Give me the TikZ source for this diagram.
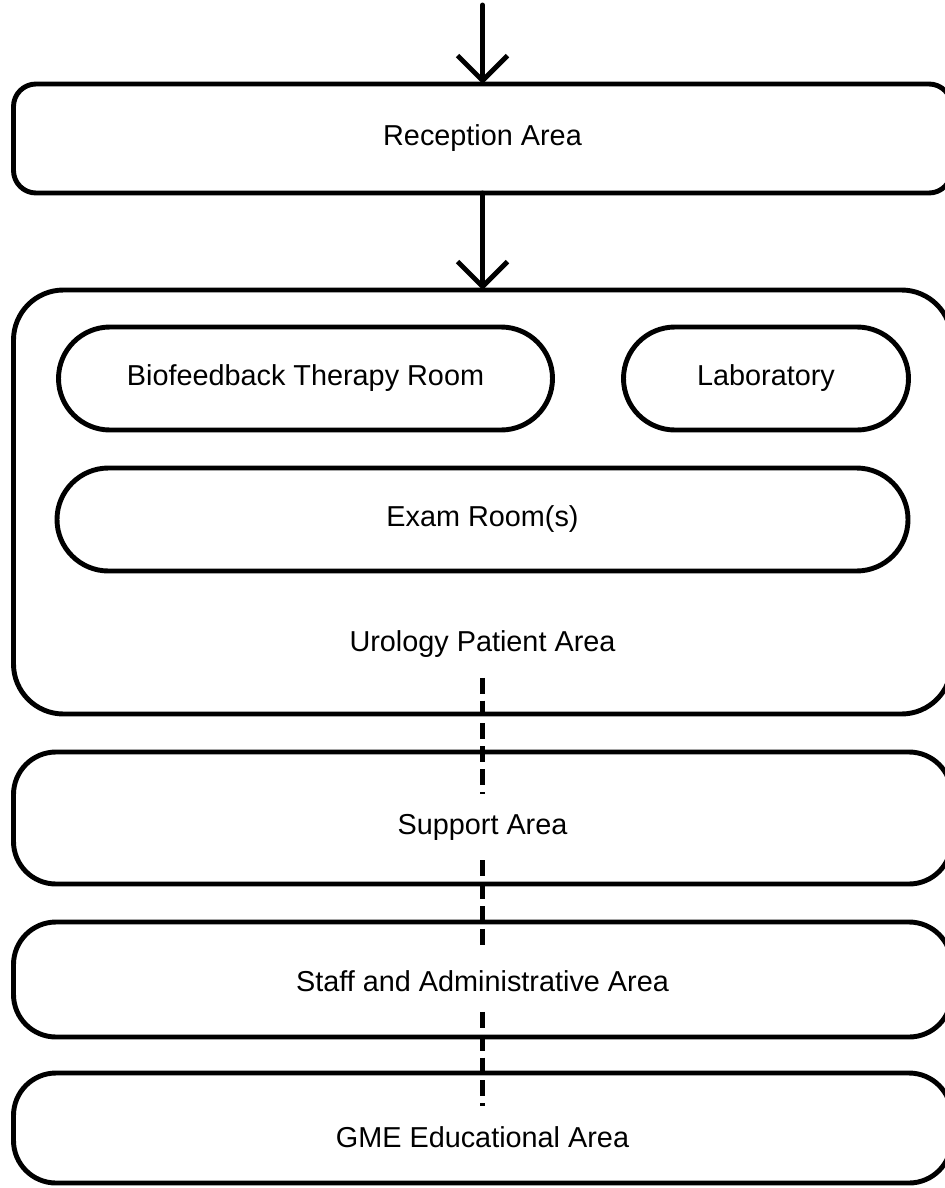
\documentclass[tikz,border=0pt]{standalone}
\usepackage{fontspec}
\setmainfont{Liberation Sans}
\usetikzlibrary{arrows.meta,positioning}
\newcommand{\roomfont}{\fontsize{16.4}{19}\selectfont}
\tikzstyle{zone}=[draw, line width=2.8pt, outer sep=0pt, minimum width=18.76cm,
  rounded corners=0.85cm]
\tikzstyle{room}=[draw, line width=2.8pt, outer sep=0pt, minimum height=2.06cm,
  rounded corners=1.03cm, font=\roomfont]
\tikzstyle{zonetext}=[inner xsep=0.1cm, inner ysep=0.4cm, font=\roomfont]
\tikzstyle{line}=[draw, line width=2.8pt, line cap=round,
  -{Straight Barb[length=5mm,width=10mm]}]
\tikzstyle{linepart}=[draw, line width=2.3pt, dash pattern=on 9pt off 4pt]

\begin{document}
\begin{tikzpicture}
  \useasboundingbox (0,0) rectangle (18.88,-23.76);

  % reception and patient area
  \node [zone, minimum height=2.18cm, rounded corners=0.45cm, font=\roomfont]
    (RECEPTION) at (9.65,-2.77) {Reception Area};
  \node [zone, minimum height=8.48cm, rounded corners=1.0cm,
    below=1.94cm of RECEPTION] (UROLOGY) {};
  \node [room, minimum width=9.88cm,
    below right=0.74cm and 0.9cm of UROLOGY.north west] (BIOFEEDBACK)
    {Biofeedback Therapy Room};
  \node [room, minimum width=5.7cm,
    below left=0.74cm and 0.86cm of UROLOGY.north east] (LAB) {Laboratory};
  \path (UROLOGY.north)+(0.0,-4.59) node [room, minimum width=17.02cm] (EXAM)
    {Exam Room(s)};
  \path (UROLOGY.south)+(0.0,1.40) node [zonetext] (UROLOGYTEXT)
    {Urology Patient Area};

  % back areas
  \node [zone, minimum height=2.64cm, below=0.76cm of UROLOGY] (SUPPORT) {};
  \node [zone, minimum height=2.30cm, below=0.76cm of SUPPORT] (STAFF) {};
  \node [zone, minimum height=2.20cm, below=0.72cm of STAFF] (GME) {};
  \path (SUPPORT.center)+(0.0,-0.18) node [zonetext] (SUPPORTTEXT) {Support Area};
  \path (STAFF.center)+(0.0,-0.03) node [zonetext] (STAFFTEXT)
    {Staff and Administrative Area};
  \path (GME.center)+(0.0,-0.18) node [zonetext] (GMETEXT) {GME Educational Area};

  %Draw arrows between elements
  \coordinate (ENTRY) at (9.65,-0.1);
  \path [line] (ENTRY) -- (RECEPTION);
  \path [line] (RECEPTION) -- (UROLOGY);

  \path [linepart] (UROLOGYTEXT) -- (SUPPORTTEXT);
  \path [linepart] (SUPPORTTEXT) -- (STAFFTEXT);
  \path [linepart] (STAFFTEXT) -- (GMETEXT);

\end{tikzpicture}
\end{document}
